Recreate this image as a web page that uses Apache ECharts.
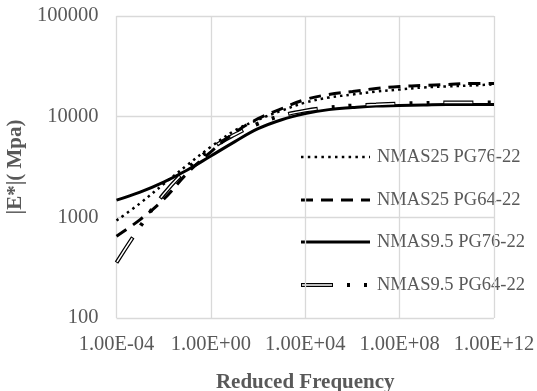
<!DOCTYPE html>
<html>
<head>
<meta charset="utf-8">
<script src="https://cdn.jsdelivr.net/npm/echarts@6/dist/echarts.min.js"></script>
<style>
html,body{margin:0;padding:0;background:#fff;}
#chart{width:537px;height:391px;}
</style>
</head>
<body>
<div id="chart"></div>
<script>
// Reduced frequency exponents (log10 of frequency)
var freqExp = [-4,-3,-2,-1,0,1,2,3,4,5,6,7,8,9,10,11,12];
// |E*| in MPa
var nmas25pg76 = [930,1380,2140,3310,5010,7240,9330,11480,13800,15490,16600,17780,18620,19500,19950,20420,20890];
var nmas25pg64 = [650,950,1510,2750,4470,6920,9550,12020,14790,16600,17780,19050,19950,20420,20890,21380,21400];
var nmas95pg76 = [1480,1780,2240,2950,4070,5620,7590,9330,10720,11750,12300,12740,12880,13030,13180,13180,13180];
var nmas95pg64 = [355,810,1700,3020,4790,6610,8510,10230,11480,12300,12880,13180,13490,13650,13800,13800,13800];
var seriesNames = ['NMAS25 PG76-22','NMAS25 PG64-22','NMAS9.5 PG76-22','NMAS9.5 PG64-22'];
var yTitle = '|E*|( Mpa)';
var xTitle = 'Reduced Frequency';

function pairs(ys){ return freqExp.map(function(e,i){ return [e, ys[i]]; }); }
function fmtExp(v){
  var a = Math.abs(Math.round(v));
  return '1.00E' + (v < 0 ? '-' : '+') + (a < 10 ? '0' + a : '' + a);
}

var FONT = "'Liberation Serif','Times New Roman',serif";
var GREY = '#595959';

var chart = echarts.init(document.getElementById('chart'), null, {renderer:'canvas'});

var legendRows = [157, 200, 242, 285];
var lx1 = 301, lx2 = 370, tx = 377;
var graphic = [
  {type:'line', shape:{x1:lx1,y1:legendRows[0],x2:lx2,y2:legendRows[0]}, style:{stroke:'#000',lineWidth:2.5,lineDash:[2.5,4.3]}},
  {type:'line', shape:{x1:lx1,y1:legendRows[1],x2:lx2,y2:legendRows[1]}, style:{stroke:'#000',lineWidth:3,lineDash:[12,8]}},
  {type:'line', shape:{x1:lx1,y1:legendRows[2],x2:lx2,y2:legendRows[2]}, style:{stroke:'#000',lineWidth:3}},
  {type:'line', shape:{x1:lx1,y1:legendRows[3],x2:lx2,y2:legendRows[3]}, style:{stroke:'#000',lineWidth:4,lineDash:[32,14,3,14,3,14]}},
  {type:'line', shape:{x1:lx1+1,y1:legendRows[3],x2:lx1+31,y2:legendRows[3]}, style:{stroke:'#fff',lineWidth:1.5}}
];
seriesNames.forEach(function(n,i){
  graphic.push({type:'text', style:{text:n, x:tx, y:legendRows[i], font:'18.5px ' + FONT, fill:GREY, verticalAlign:'middle', textVerticalAlign:'middle'}});
});

var option = {
  animation:false,
  backgroundColor:'#fff',
  grid:{left:116.5, right:43, top:16, bottom:73, containLabel:false, outerBoundsMode:'none'},
  xAxis:{
    type:'value', min:-4, max:12, interval:4,
    name:xTitle, nameLocation:'middle', nameGap:54,
    nameTextStyle:{fontFamily:FONT, fontSize:21, fontWeight:'bold', color:GREY},
    axisLine:{show:false}, axisTick:{show:false},
    axisLabel:{formatter:fmtExp, fontFamily:FONT, fontSize:20.5, color:GREY, margin:16, hideOverlap:false},
    splitLine:{show:true, lineStyle:{color:'#d9d9d9', width:1.3}}
  },
  yAxis:{
    type:'log', logBase:10, min:100, max:100000,
    name:yTitle, nameLocation:'middle', nameGap:79, nameRotate:90,
    nameTextStyle:{fontFamily:FONT, fontSize:21, fontWeight:'bold', color:GREY},
    axisLine:{show:false}, axisTick:{show:false},
    axisLabel:{formatter:function(v){return String(Math.round(v));}, fontFamily:FONT, fontSize:20.5, color:GREY, margin:18},
    splitLine:{show:true, lineStyle:{color:'#d9d9d9', width:1.3}}
  },
  graphic: graphic,
  series:[
    {name:seriesNames[2], type:'line', data:pairs(nmas95pg76), smooth:0.4, showSymbol:false, lineStyle:{color:'#000', width:3}, z:2},
    {name:seriesNames[3], type:'line', data:pairs(nmas95pg64), smooth:0.4, showSymbol:false, lineStyle:{color:'#000', width:4, type:[30,14,3,14,3,14]}, z:3},
    {name:seriesNames[3] + ' inner', type:'line', data:pairs(nmas95pg64), smooth:0.4, showSymbol:false, lineStyle:{color:'#fff', width:1.5, type:[28,50], dashOffset:-1}, z:4},
    {name:seriesNames[1], type:'line', data:pairs(nmas25pg64), smooth:0.4, showSymbol:false, lineStyle:{color:'#000', width:3, type:[12,8]}, z:5},
    {name:seriesNames[0], type:'line', data:pairs(nmas25pg76), smooth:0.4, showSymbol:false, lineStyle:{color:'#000', width:2.5, type:[2.5,4]}, z:6}
  ]
};
chart.setOption(option);
</script>
</body>
</html>
